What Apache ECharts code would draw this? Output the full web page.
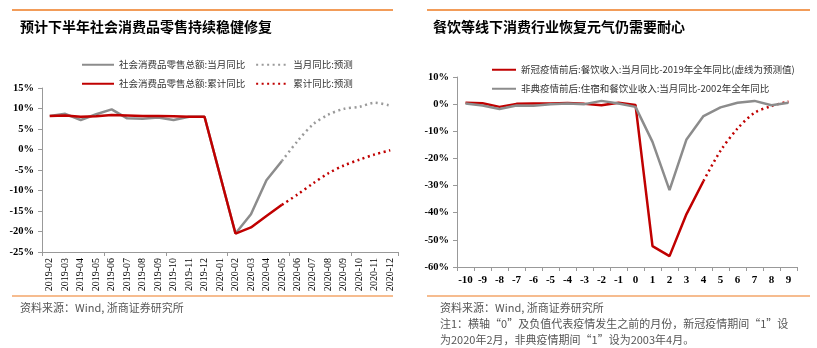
<!DOCTYPE html>
<html><head><meta charset="utf-8">
<script src="https://cdn.jsdelivr.net/npm/echarts@6/dist/echarts.min.js"></script>
<style>html,body{margin:0;padding:0;background:#fff}#c{width:817px;height:348px}</style>
</head><body><div id="c"></div>
<script>
// ---------- Left chart data ----------
const months = ['2019-02','2019-03','2019-04','2019-05','2019-06','2019-07','2019-08','2019-09','2019-10','2019-11','2019-12','2020-01','2020-02','2020-03','2020-04','2020-05','2020-06','2020-07','2020-08','2020-09','2020-10','2020-11','2020-12'];
const retailMonthly = [8.2,8.7,7.2,8.6,9.8,7.6,7.5,7.8,7.2,8.0,8.0,null,-20.5,-15.8,-7.5,-2.8,null,null,null,null,null,null,null];
const retailMonthlyFcst = [null,null,null,null,null,null,null,null,null,null,null,null,null,null,null,-2.8,2.0,6.1,8.5,9.9,10.4,11.4,10.7];
const retailCum = [8.2,8.3,8.0,8.1,8.4,8.3,8.2,8.2,8.1,8.0,8.0,null,-20.5,-19.0,-16.2,-13.5,null,null,null,null,null,null,null];
const retailCumFcst = [null,null,null,null,null,null,null,null,null,null,null,null,null,null,null,-13.5,-11.0,-8.3,-5.8,-3.9,-2.5,-1.2,-0.2];
const leftTicks = {min:-25, max:15, interval:5};

// ---------- Right chart data ----------
const periods = ['-10','-9','-8','-7','-6','-5','-4','-3','-2','-1','0','1','2','3','4','5','6','7','8','9'];
const covidFood = [0.5,0.3,-1.0,0.1,0.2,0.2,0.4,0.1,-0.4,0.5,-0.3,-52.3,-56.0,-40.5,-28.3,null,null,null,null,null];
const covidFoodFcst = [null,null,null,null,null,null,null,null,null,null,null,null,null,null,-28.3,-17.2,-9.0,-3.2,-0.7,1.0];
const sarsFood = [0.2,-0.5,-1.8,-0.5,-0.6,0.0,0.2,0.0,1.2,0.2,-1.0,-13.9,-31.7,-13.0,-4.4,-1.2,0.5,1.2,-0.4,0.5];
const rightTicks = {min:-60, max:10, interval:10};

const names = {
  lm:'社会消费品零售总额:当月同比', lmf:'当月同比:预测',
  lc:'社会消费品零售总额:累计同比', lcf:'累计同比:预测',
  rc:'新冠疫情前后:餐饮收入:当月同比-2019年全年同比(虚线为预测值)',
  rs:'非典疫情前后:住宿和餐饮业收入:当月同比-2002年全年同比'
};

const RED = '#C00000', GRAY = '#8C8C8C', ORANGE = '#EE7B22';
const serif = '"Liberation Serif","DejaVu Serif",serif';
const cjk = '"Noto Sans CJK SC",sans-serif';

const chart = echarts.init(document.getElementById('c'));
const pct = v => v + '%';
const legendText = {fontFamily: cjk, fontSize: 9.5, color: '#333'};
const legendBase = {itemHeight:10, itemStyle:{opacity:0}, textStyle:legendText};

chart.setOption({
  animation:false,
  backgroundColor:'#fff',
  grid:[
    {left:42, right:419, top:88, bottom:96, containLabel:false},
    {left:457, right:20, top:77, bottom:81, containLabel:false}
  ],
  legend:[
    Object.assign({data:[names.lm, names.lmf], left:76, top:55, itemWidth:32, itemGap:10}, legendBase),
    Object.assign({data:[names.lc, names.lcf], left:76, top:74, itemWidth:32, itemGap:10}, legendBase),
    Object.assign({data:[names.rc], left:486, top:60, itemWidth:24}, legendBase),
    Object.assign({data:[names.rs], left:486, top:79, itemWidth:24}, legendBase)
  ],
  xAxis:[
    {type:'category', gridIndex:0, data:months, boundaryGap:true,
     axisLine:{show:false}, axisTick:{show:false},
     axisLabel:{rotate:90, fontFamily:serif, fontSize:10, color:'#000', margin:6, interval:0}},
    {type:'category', gridIndex:0, data:months, boundaryGap:true, position:'bottom',
     axisLine:{show:true, onZero:true, lineStyle:{color:'#999', width:1}},
     axisTick:{show:true, length:4, lineStyle:{color:'#999'}}, axisLabel:{show:false}},
    {type:'category', gridIndex:1, data:periods, boundaryGap:true,
     axisLine:{show:true, onZero:false, lineStyle:{color:'#999', width:1}},
     axisTick:{show:true, length:4, lineStyle:{color:'#999'}},
     axisLabel:{fontFamily:serif, fontSize:11, fontWeight:'bold', color:'#000', margin:8, interval:0}}
  ],
  yAxis:[
    {type:'value', gridIndex:0, min:leftTicks.min, max:leftTicks.max, interval:leftTicks.interval,
     splitLine:{show:false},
     axisLine:{show:true, lineStyle:{color:'#999'}}, axisTick:{show:true, length:4, lineStyle:{color:'#999'}},
     axisLabel:{formatter:pct, fontFamily:serif, fontSize:10.5, fontWeight:'bold', color:'#000', margin:8}},
    {type:'value', gridIndex:1, min:rightTicks.min, max:rightTicks.max, interval:rightTicks.interval,
     splitLine:{show:false},
     axisLine:{show:true, lineStyle:{color:'#999'}}, axisTick:{show:true, length:4, lineStyle:{color:'#999'}},
     axisLabel:{formatter:pct, fontFamily:serif, fontSize:10.5, fontWeight:'bold', color:'#000', margin:8}}
  ],
  series:[
    {name:names.lm, type:'line', xAxisIndex:0, yAxisIndex:0, data:retailMonthly, connectNulls:true,
     symbol:'none', lineStyle:{color:GRAY, width:2.5}, itemStyle:{color:GRAY}},
    {name:names.lmf, type:'line', xAxisIndex:0, yAxisIndex:0, data:retailMonthlyFcst,
     symbol:'none', smooth:0.3, lineStyle:{color:'#9A9A9A', width:2.5, type:[2,3.5]}, itemStyle:{color:'#9A9A9A'}},
    {name:names.lc, type:'line', xAxisIndex:0, yAxisIndex:0, data:retailCum, connectNulls:true,
     symbol:'none', lineStyle:{color:RED, width:2.5}, itemStyle:{color:RED}},
    {name:names.lcf, type:'line', xAxisIndex:0, yAxisIndex:0, data:retailCumFcst,
     symbol:'none', smooth:0.3, lineStyle:{color:RED, width:2.5, type:[2,3.5]}, itemStyle:{color:RED}},
    {name:names.rc, type:'line', xAxisIndex:2, yAxisIndex:1, data:covidFood,
     symbol:'none', lineStyle:{color:RED, width:2.5}, itemStyle:{color:RED}},
    {name:names.rc+'预测', type:'line', xAxisIndex:2, yAxisIndex:1, data:covidFoodFcst,
     symbol:'none', smooth:0.3, lineStyle:{color:RED, width:2.5, type:[2,3.5]}, itemStyle:{color:RED}},
    {name:names.rs, type:'line', xAxisIndex:2, yAxisIndex:1, data:sarsFood,
     symbol:'none', lineStyle:{color:GRAY, width:2.5}, itemStyle:{color:GRAY}}
  ],
  graphic:[
    {type:'line', shape:{x1:12,y1:10,x2:393,y2:10}, style:{stroke:ORANGE, lineWidth:1.5}},
    {type:'line', shape:{x1:427,y1:10,x2:810,y2:10}, style:{stroke:ORANGE, lineWidth:1.5}},
    {type:'line', shape:{x1:12,y1:296,x2:393,y2:296}, style:{stroke:'#F3A66A', lineWidth:1.5}},
    {type:'line', shape:{x1:427,y1:296,x2:810,y2:296}, style:{stroke:'#F3A66A', lineWidth:1.5}},
    {type:'text', left:20, top:20, style:{text:'预计下半年社会消费品零售持续稳健修复', font:'bold 14px "Noto Sans CJK SC"', fill:'#000'}},
    {type:'text', left:433, top:20, style:{text:'餐饮等线下消费行业恢复元气仍需要耐心', font:'bold 14px "Noto Sans CJK SC"', fill:'#000'}},
    {type:'text', left:20, top:302, style:{text:'资料来源：Wind, 浙商证券研究所', font:'11px "Noto Sans CJK SC"', fill:'#555'}},
    {type:'text', left:440, top:302, style:{text:'资料来源：Wind, 浙商证券研究所', font:'11px "Noto Sans CJK SC"', fill:'#555'}},
    {type:'text', left:440, top:318, style:{text:'注1：横轴“0”及负值代表疫情发生之前的月份，新冠疫情期间“1”设', font:'11px "Noto Sans CJK SC"', fill:'#555'}},
    {type:'text', left:440, top:334, style:{text:'为2020年2月，非典疫情期间“1”设为2003年4月。', font:'11px "Noto Sans CJK SC"', fill:'#555'}}
  ]
});
</script></body></html>
